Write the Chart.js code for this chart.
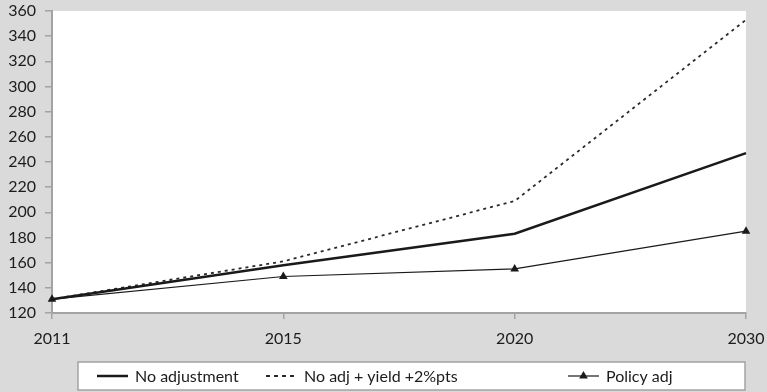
<!DOCTYPE html>
<html>
<head>
<meta charset="utf-8">
<title>Projection scenarios</title>
<script src="https://cdn.jsdelivr.net/npm/chart.js@4.4.0/dist/chart.umd.min.js"></script>
<style>
  html, body { margin: 0; padding: 0; background: #dadada; }
  canvas { display: block; }
</style>
</head>
<body>
<canvas id="chart" width="767" height="392"></canvas>
<script>
  // values
  const years = ['2011', '2015', '2020', '2030'];
  const noAdjustment = [131, 158, 183, 247];
  const noAdjYield = [131, 161, 209, 353];
  const policyAdj = [131, 149, 155, 185];
  const yTicks = [120, 140, 160, 180, 200, 220, 240, 260, 280, 300, 320, 340, 360];

  const FONT = 'Lato, "Open Sans", sans-serif';
  const INK = '#1e1b1c';
  const AXIS = '#a3a3a3';

  // grey page, white plot area
  const backdrop = {
    id: 'backdrop',
    beforeDraw(chart) {
      const { ctx, chartArea: a } = chart;
      ctx.save();
      ctx.fillStyle = '#dadada';
      ctx.fillRect(0, 0, chart.width, chart.height);
      ctx.fillStyle = '#ffffff';
      ctx.fillRect(a.left, a.top, a.right - a.left, a.bottom - a.top);
      ctx.restore();
    }
  };

  // boxed legend along the bottom, with line samples
  const boxLegend = {
    id: 'boxLegend',
    afterDraw(chart) {
      const ctx = chart.ctx;
      const left = 78, top = 362, right = 745, bottom = 390;
      const mid = (top + bottom) / 2;
      const starts = [97, 266, 568];
      ctx.save();
      ctx.fillStyle = '#ffffff';
      ctx.fillRect(left, top, right - left, bottom - top);
      ctx.strokeStyle = AXIS;
      ctx.lineWidth = 1.5;
      ctx.strokeRect(left, top, right - left, bottom - top);
      ctx.font = '16px ' + FONT;
      ctx.textBaseline = 'middle';
      chart.data.datasets.forEach((ds, i) => {
        const x = starts[i];
        ctx.beginPath();
        ctx.setLineDash(ds.borderDash ? [4, 4] : []);
        ctx.lineWidth = ds.borderWidth;
        ctx.strokeStyle = ds.borderColor;
        ctx.moveTo(x, mid);
        ctx.lineTo(x + 31, mid);
        ctx.stroke();
        ctx.setLineDash([]);
        if (ds.pointRadius > 0) {
          ctx.fillStyle = ds.pointBackgroundColor;
          Chart.helpers.drawPoint(ctx, { pointStyle: ds.pointStyle, radius: ds.pointRadius, borderWidth: 0, rotation: 0 }, x + 15.5, mid);
        }
        ctx.fillStyle = INK;
        ctx.fillText(ds.label, x + 38, mid + 1);
      });
      ctx.restore();
    }
  };

  new Chart(document.getElementById('chart'), {
    type: 'line',
    data: {
      labels: years,
      datasets: [
        {
          label: 'No adjustment',
          data: noAdjustment,
          borderColor: '#1a1a1a',
          borderWidth: 2.5,
          pointRadius: 0,
          clip: false
        },
        {
          label: 'No adj + yield +2%pts',
          data: noAdjYield,
          borderColor: '#2a2a2a',
          borderWidth: 1.8,
          borderDash: [3, 4],
          pointRadius: 0,
          clip: false
        },
        {
          label: 'Policy adj',
          data: policyAdj,
          borderColor: '#1a1a1a',
          borderWidth: 1.2,
          pointStyle: 'triangle',
          pointRadius: 5,
          pointBackgroundColor: '#1a1a1a',
          pointBorderWidth: 0,
          clip: false
        }
      ]
    },
    options: {
      responsive: false,
      devicePixelRatio: 1,
      animation: false,
      events: [],
      layout: { padding: { left: 0, right: 21, top: 11, bottom: 0 } },
      plugins: {
        legend: { display: false },
        tooltip: { enabled: false }
      },
      scales: {
        x: {
          offset: false,
          grid: { drawOnChartArea: false, color: AXIS, lineWidth: 1.5, tickLength: 6 },
          border: { color: AXIS, width: 2 },
          ticks: { color: INK, font: { family: FONT, size: 16 }, padding: 10, maxRotation: 0 },
          afterFit(scale) {
            scale.height = 79;
            scale.paddingLeft = 0;
            scale.paddingRight = 0;
          }
        },
        y: {
          min: 120,
          max: 360,
          grid: { drawOnChartArea: false, color: AXIS, lineWidth: 1.5, tickLength: 7 },
          border: { color: AXIS, width: 2 },
          ticks: { color: INK, font: { family: FONT, size: 16 }, padding: 9 },
          afterBuildTicks(scale) { scale.ticks = yTicks.map(v => ({ value: v })); },
          afterFit(scale) {
            scale.width = 52;
            scale.paddingTop = 0;
            scale.paddingBottom = 0;
          }
        }
      }
    },
    plugins: [backdrop, boxLegend]
  });
</script>
</body>
</html>
